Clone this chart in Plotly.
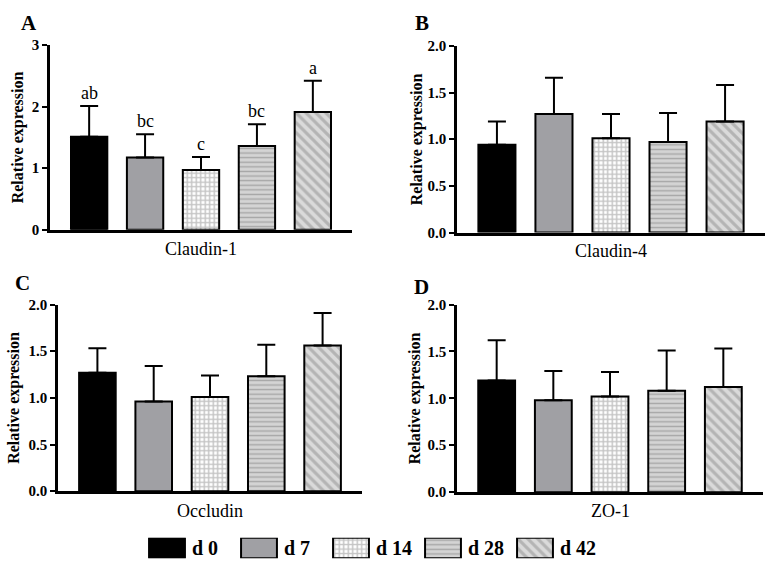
import plotly.graph_objects as go

groups = ["d 0", "d 7", "d 14", "d 28", "d 42"]

panels = ["A", "B", "C", "D"]
genes = ["Claudin-1", "Claudin-4", "Occludin", "ZO-1"]

claudin1_mean = [1.51, 1.17, 0.97, 1.36, 1.91]
claudin1_err = [0.50, 0.38, 0.21, 0.35, 0.51]
claudin4_mean = [0.94, 1.27, 1.01, 0.97, 1.19]
claudin4_err = [0.25, 0.39, 0.26, 0.31, 0.39]
occludin_mean = [1.27, 0.96, 1.01, 1.23, 1.56]
occludin_err = [0.26, 0.38, 0.23, 0.34, 0.35]
zo1_mean = [1.19, 0.98, 1.02, 1.08, 1.12]
zo1_err = [0.43, 0.31, 0.26, 0.43, 0.41]

claudin1_letters = ["ab", "bc", "c", "bc", "a"]

means = [claudin1_mean, claudin4_mean, occludin_mean, zo1_mean]
errs = [claudin1_err, claudin4_err, occludin_err, zo1_err]
ymax = [3, 2, 2, 2]
ydtick = [1, 0.5, 0.5, 0.5]
yfmt = ["d", ".1f", ".1f", ".1f"]

# styles per group
styles = [
    dict(color="black", pattern=dict(shape="")),
    dict(color="#a0a0a4", pattern=dict(shape="")),
    dict(color="white", pattern=dict(shape="+", fgcolor="#8a8a8a", bgcolor="white", size=4.5, solidity=0.55)),
    dict(color="#d4d4d4", pattern=dict(shape="-", fgcolor="#787878", bgcolor="#d4d4d4", size=4.6, solidity=0.3)),
    dict(color="#dadada", pattern=dict(shape="\\", fgcolor="#8e8e8e", bgcolor="#dadada", size=7, solidity=0.45)),
]

W, H = 773, 575
# plot area pixel boxes: (x0, x1, ytop, ybottom)
boxes = [(50, 352, 38, 228), (457, 765, 39, 231), (58, 362, 305, 497), (457, 763, 305, 498)]
letter_pos = [(29, 15), (422, 15), (22, 283), (421, 287)]
ytitle_x = [18, 417, 14, 415]
xtitle_y = [248, 250, 517, 517]

serif = "Liberation Serif"

fig = go.Figure()
layout = dict(
    width=W, height=H, margin=dict(l=0, r=0, t=0, b=0),
    paper_bgcolor="white", plot_bgcolor="white",
    barmode="overlay", showlegend=False,
    font=dict(family=serif, color="black"),
)
annotations = []

for p in range(4):
    sfx = "" if p == 0 else str(p + 1)
    xa, ya = "x" + sfx, "y" + sfx
    for g in range(5):
        fig.add_trace(go.Bar(
            x=[groups[g]], y=[means[p][g]], xaxis=xa, yaxis=ya, width=0.65,
            marker=dict(color=styles[g]["color"], pattern=styles[g]["pattern"],
                        line=dict(color="black", width=2)),
            error_y=dict(type="data", array=[errs[p][g]], arrayminus=[0],
                         symmetric=False, color="black", thickness=2, width=9),
        ))
    x0, x1, yt, yb = boxes[p]
    layout["xaxis" + sfx] = dict(
        domain=[x0 / W, x1 / W], anchor=ya, type="category",
        categoryorder="array", categoryarray=groups, range=[-0.7, 4.7],
        showticklabels=False, ticks="", showline=True, linecolor="black", linewidth=2.5,
        showgrid=False, zeroline=False, fixedrange=True,
    )
    layout["yaxis" + sfx] = dict(
        domain=[1 - yb / H, 1 - yt / H], anchor=xa, range=[0, ymax[p]],
        dtick=ydtick[p], tick0=0, tickformat=yfmt[p], ticks="outside", ticklen=5,
        tickwidth=2, tickcolor="black", showline=True, linecolor="black", linewidth=2.5,
        showgrid=False, zeroline=False,
        tickfont=dict(family=serif, size=15, color="black", weight="bold"),
    )
    lx, ly = letter_pos[p]
    annotations.append(dict(text="<b>%s</b>" % panels[p], x=lx / W, y=1 - ly / H, xref="paper", yref="paper",
                            showarrow=False, font=dict(family=serif, size=21), xanchor="center", yanchor="middle"))
    annotations.append(dict(text="<b>Relative expression</b>", x=ytitle_x[p] / W, y=1 - (yt + yb) / 2 / H,
                            xref="paper", yref="paper", textangle=-90, showarrow=False,
                            font=dict(family=serif, size=16), xanchor="center", yanchor="middle"))
    annotations.append(dict(text=genes[p], x=(x0 + x1) / 2 / W, y=1 - xtitle_y[p] / H,
                            xref="paper", yref="paper", showarrow=False,
                            font=dict(family=serif, size=18), xanchor="center", yanchor="middle"))

for g in range(5):
    annotations.append(dict(text=claudin1_letters[g], x=groups[g], y=claudin1_mean[g] + claudin1_err[g],
                            xref="x", yref="y", showarrow=False, yanchor="bottom", yshift=1,
                            font=dict(family=serif, size=18)))

# legend built on a helper axis
for g in range(5):
    fig.add_trace(go.Bar(
        x=[groups[g]], y=[1], xaxis="x5", yaxis="y5", width=0.39,
        marker=dict(color=styles[g]["color"], pattern=styles[g]["pattern"],
                    line=dict(color="black", width=2)),
    ))
    annotations.append(dict(text="<b>%s</b>" % groups[g], x=g + 0.25, y=0.5, xref="x5", yref="y5",
                            showarrow=False, xanchor="left", yanchor="middle",
                            font=dict(family=serif, size=20)))
layout["xaxis5"] = dict(domain=[121 / W, 581 / W], anchor="y5", type="category",
                        categoryorder="array", categoryarray=groups, range=[-0.5, 4.5],
                        visible=False, fixedrange=True)
layout["yaxis5"] = dict(domain=[1 - 566 / H, 1 - 545 / H], anchor="x5", range=[0, 1],
                        visible=False, fixedrange=True)

layout["annotations"] = annotations
fig.update_layout(**layout)
fig.write_html("out.html")
